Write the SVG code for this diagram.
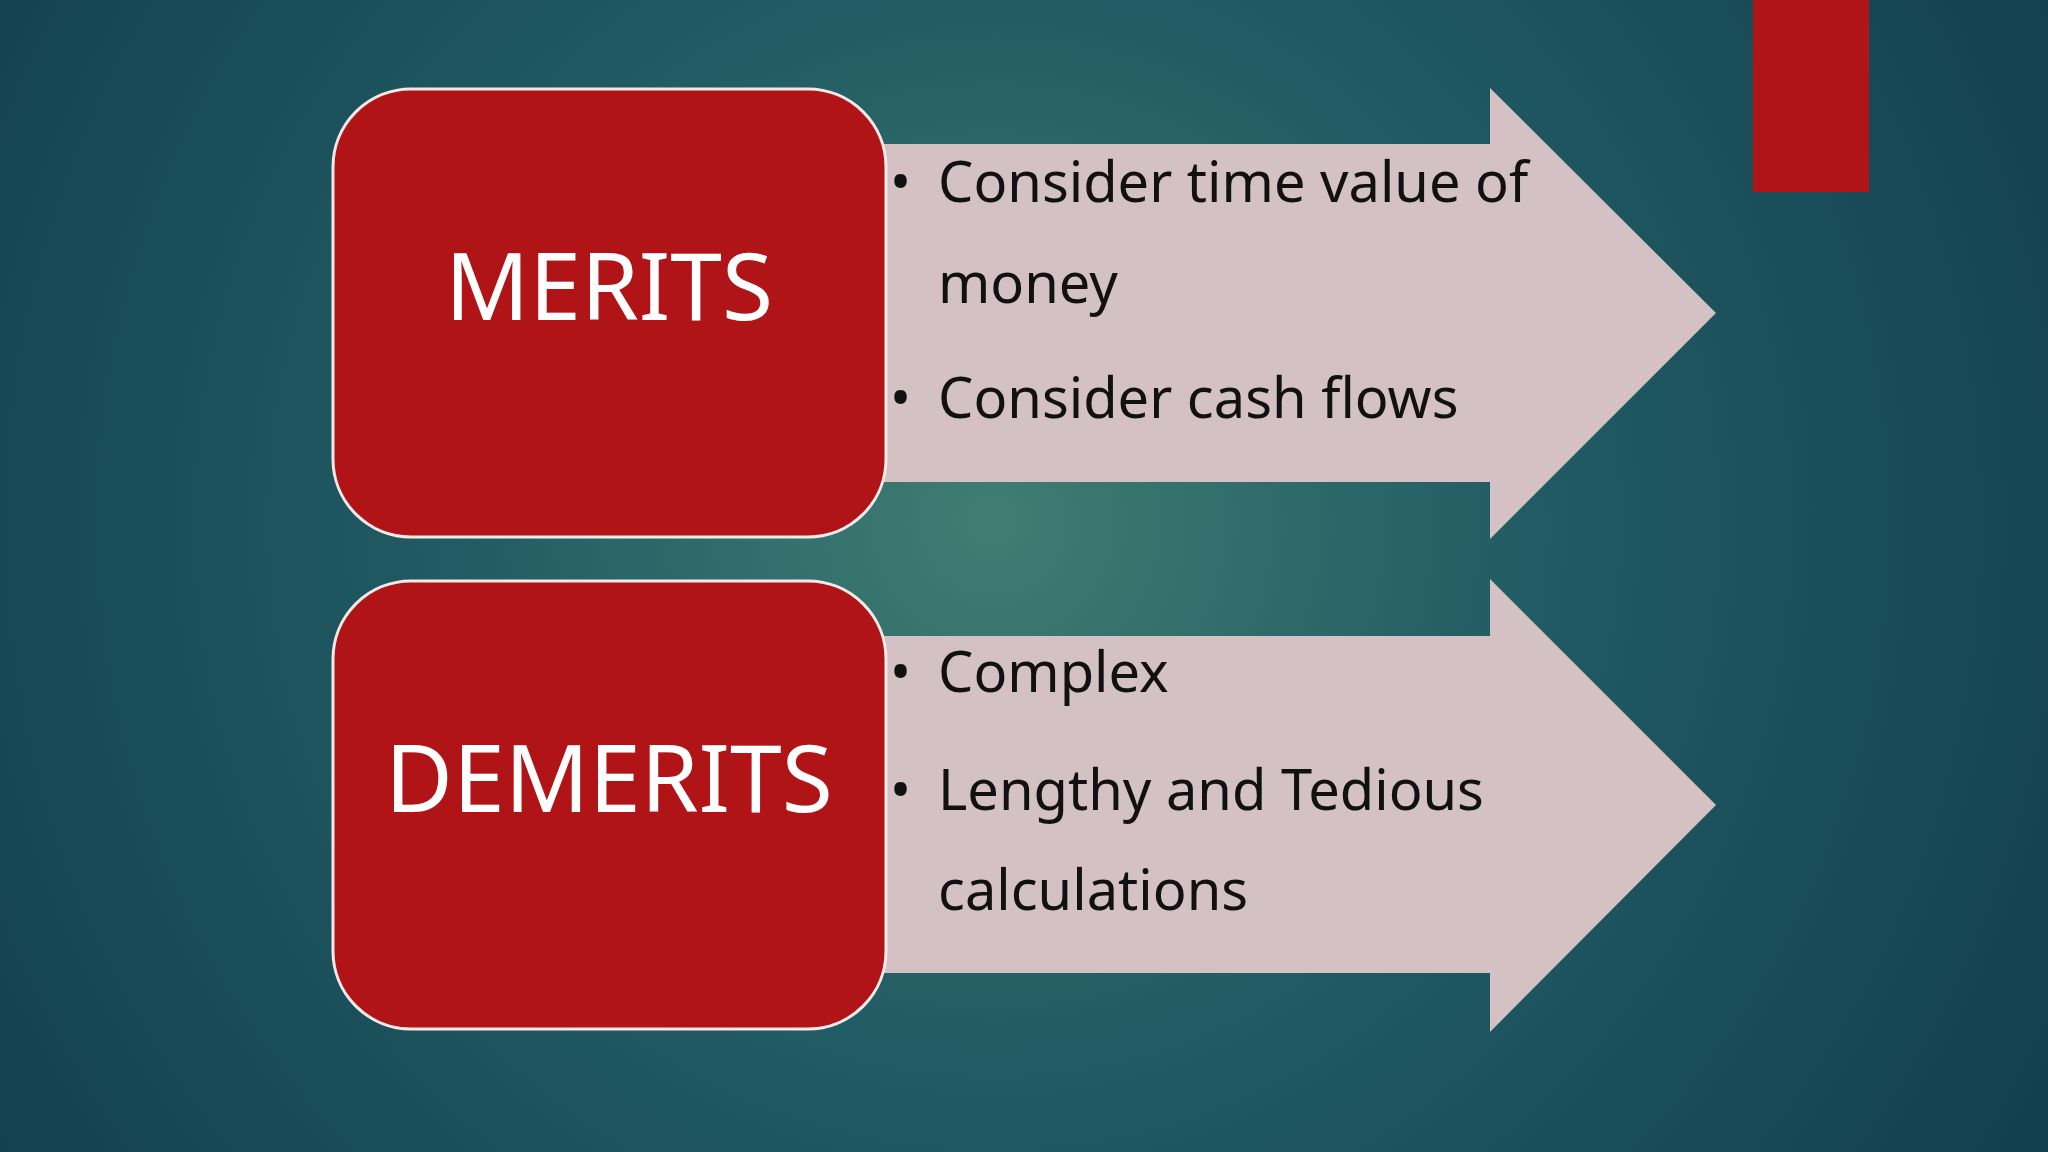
<svg xmlns="http://www.w3.org/2000/svg" width="2048" height="1152" viewBox="0 0 2048 1152">
<defs>
<radialGradient id="bg" cx="993" cy="522" r="1200" gradientUnits="userSpaceOnUse">
<stop offset="0" stop-color="#407d72"/>
<stop offset="0.45" stop-color="#215b63"/>
<stop offset="1" stop-color="#12404f"/>
</radialGradient>
<style>
.box{fill:#b01416;stroke:#f4eaea;stroke-width:3}
.arrow{fill:#d3c1c4}
.title{font-family:"Noto Sans","Open Sans",sans-serif;font-size:93px;fill:#fff;text-anchor:middle}
.item{font-family:"Noto Sans","Open Sans",sans-serif;font-size:56px;fill:#111}
</style>
</defs>
<rect width="2048" height="1152" fill="url(#bg)"/>
<rect x="1753" y="0" width="116" height="192" fill="#b01416"/>
<g id="connectors"/>
<g id="arrow1">
<polygon class="arrow" points="860,144 1490,144 1490,88 1716,313 1490,539 1490,482 860,482"/>
<text class="item" x="890" y="202">•</text><text class="item" x="938" y="202">Consider time value of</text>
<text class="item" x="938" y="303">money</text>
<text class="item" x="890" y="418">•</text><text class="item" x="938" y="418">Consider cash flows</text>
</g>
<g id="arrow2">
<polygon class="arrow" points="860,636 1490,636 1490,579 1716,805 1490,1032 1490,973 860,973"/>
<text class="item" x="890" y="692">•</text><text class="item" x="938" y="692">Complex</text>
<text class="item" x="890" y="810">•</text><text class="item" x="938" y="810">Lengthy and Tedious</text>
<text class="item" x="938" y="910">calculations</text>
</g>
<g id="merits">
<rect class="box" x="333" y="89" width="553" height="448" rx="78"/>
<text class="title" x="609" y="320">MERITS</text>
</g>
<g id="demerits">
<rect class="box" x="333" y="581" width="553" height="448" rx="78"/>
<text class="title" x="609" y="812">DEMERITS</text>
</g>
</svg>
